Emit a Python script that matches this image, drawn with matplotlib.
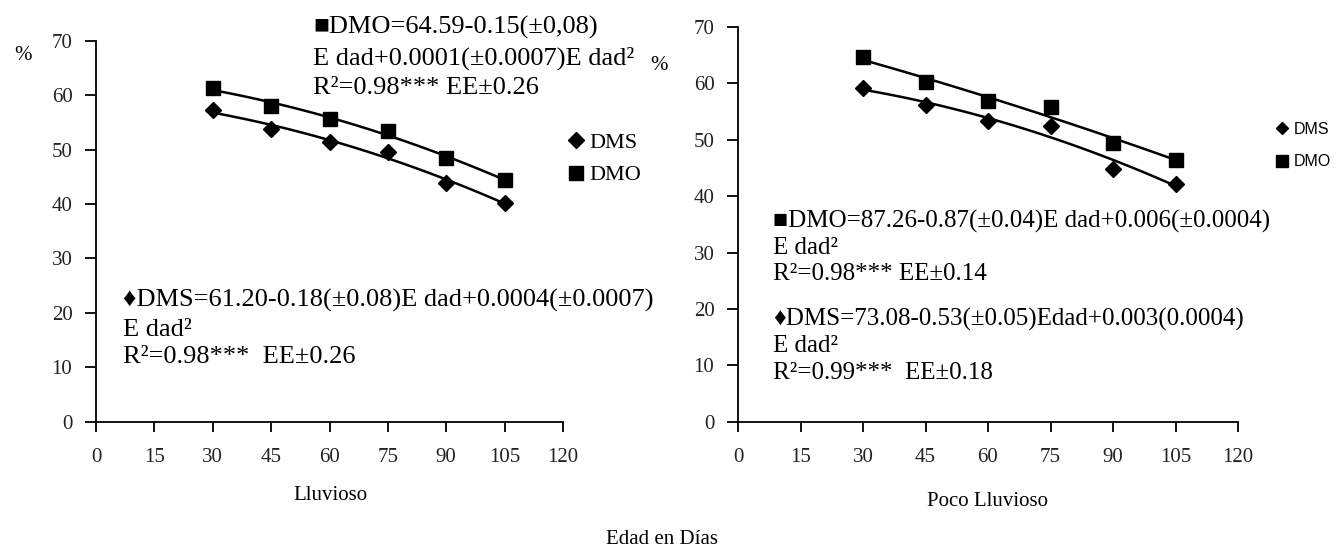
import matplotlib
matplotlib.use("Agg")
import matplotlib.pyplot as plt
import numpy as np

# ---------------------------------------------------------------------
# Data
# ---------------------------------------------------------------------

DIAS = [30, 45, 60, 75, 90, 105]

LLUVIOSO_DMS = [57.2, 53.8, 51.4, 49.6, 43.9, 40.1]
LLUVIOSO_DMO = [61.3, 58.0, 55.7, 53.5, 48.4, 44.4]

POCO_DMS = [59.2, 56.1, 53.3, 52.4, 44.9, 42.2]
POCO_DMO = [64.6, 60.3, 56.8, 55.8, 49.4, 46.5]

X_TICKS = [0, 15, 30, 45, 60, 75, 90, 105, 120]
Y_TICKS = [0, 10, 20, 30, 40, 50, 60, 70]

SERIF = ["Liberation Serif", "DejaVu Sans"]
SANS = ["Liberation Sans", "DejaVu Sans"]

W, H = 1343, 554


def fx(px):
    return px / W


def fy(py):
    return 1 - py / H


def style_axes(ax):
    ax.set_xlim(0, 120)
    ax.set_ylim(0, 70)
    ax.set_xticks(X_TICKS)
    ax.set_yticks(Y_TICKS)
    ax.spines["right"].set_visible(False)
    ax.spines["top"].set_visible(False)
    for s in ("left", "bottom"):
        ax.spines[s].set_linewidth(1.3)
    ax.tick_params(axis="x", direction="out", length=7, width=1.3, pad=12,
                   labelsize=15)
    ax.tick_params(axis="y", direction="out", length=8, width=1.3, pad=9,
                   labelsize=15)
    for lab in ax.get_xticklabels() + ax.get_yticklabels():
        lab.set_family(SERIF)
        lab.set_color("#222222")


def draw_series(ax, x, y, marker, ms):
    ax.plot(x, y, marker=marker, color="black", linestyle="None", ms=ms,
            clip_on=False)
    coef = np.polyfit(x, y, 2)
    xx = np.linspace(min(x), max(x), 100)
    ax.plot(xx, np.polyval(coef, xx), color="black", lw=1.8)


fig = plt.figure(figsize=(W / 100, H / 100), dpi=100)

ax1 = fig.add_axes([fx(96), fy(421.7), fx(467), 381 / H])
ax2 = fig.add_axes([fx(738), fy(421.7), fx(500), 394.7 / H])

# Lluvioso
draw_series(ax1, DIAS, LLUVIOSO_DMS, "D", 8.5)
draw_series(ax1, DIAS, LLUVIOSO_DMO, "s", 10)
style_axes(ax1)

# Poco Lluvioso
draw_series(ax2, DIAS, POCO_DMS, "D", 8.5)
draw_series(ax2, DIAS, POCO_DMO, "s", 10)
style_axes(ax2)

# legends
h1 = [plt.Line2D([], [], marker="D", color="black", ls="None", ms=8),
      plt.Line2D([], [], marker="s", color="black", ls="None", ms=10)]
ax1.legend(h1, ["DMS", "DMO"], loc="center left",
           bbox_to_anchor=(0.985, 0.69), frameon=False, numpoints=1,
           handlelength=0.8, handletextpad=0.2, labelspacing=0.55,
           borderpad=0, prop={"family": SERIF, "size": 16})
h2 = [plt.Line2D([], [], marker="D", color="black", ls="None", ms=6),
      plt.Line2D([], [], marker="s", color="black", ls="None", ms=8)]
ax2.legend(h2, ["DMS", "DMO"], loc="center left",
           bbox_to_anchor=(1.06, 0.70), frameon=False, numpoints=1,
           handlelength=0.8, handletextpad=0.3, labelspacing=1.1,
           borderpad=0, prop={"family": SANS, "size": 11.5})

# equations
eq = dict(family=SERIF, fontsize=19, va="center", ha="left", color="black")
eq2 = dict(eq, fontsize=18)
fig.text(fx(313), fy(27), "\u25a0DMO=64.59-0.15(\u00b10,08)", **eq)
fig.text(fx(313), fy(58), "E dad+0.0001(\u00b10.0007)E dad\u00b2", **eq)
fig.text(fx(313), fy(88), "R\u00b2=0.98*** EE\u00b10.26", **eq)

fig.text(fx(123), fy(300), "\u2666DMS=61.20-0.18(\u00b10.08)E dad+0.0004(\u00b10.0007)", **eq)
fig.text(fx(123), fy(330), "E dad\u00b2", **eq)
fig.text(fx(123), fy(357), "R\u00b2=0.98***  EE\u00b10.26", **eq)

fig.text(fx(773), fy(221), "\u25a0DMO=87.26-0.87(\u00b10.04)E dad+0.006(\u00b10.0004)", **eq2)
fig.text(fx(773), fy(248), "E dad\u00b2", **eq2)
fig.text(fx(773), fy(274), "R\u00b2=0.98*** EE\u00b10.14", **eq2)

fig.text(fx(773), fy(319), "\u2666DMS=73.08-0.53(\u00b10.05)Edad+0.003(0.0004)", **eq2)
fig.text(fx(773), fy(346), "E dad\u00b2", **eq2)
fig.text(fx(773), fy(373), "R\u00b2=0.99***  EE\u00b10.18", **eq2)

# axis labels
lab = dict(family=SERIF, fontsize=15, ha="center", va="center")
fig.text(fx(23), fy(55), "%", **lab)
fig.text(fx(659), fy(65), "%", **lab)
fig.text(fx(330), fy(496), "Lluvioso", **lab)
fig.text(fx(988), fy(501), "Poco Lluvioso", **lab)
fig.text(fx(662), fy(539), "Edad en D\u00edas", **lab)

fig.savefig("out.png", dpi=100)
